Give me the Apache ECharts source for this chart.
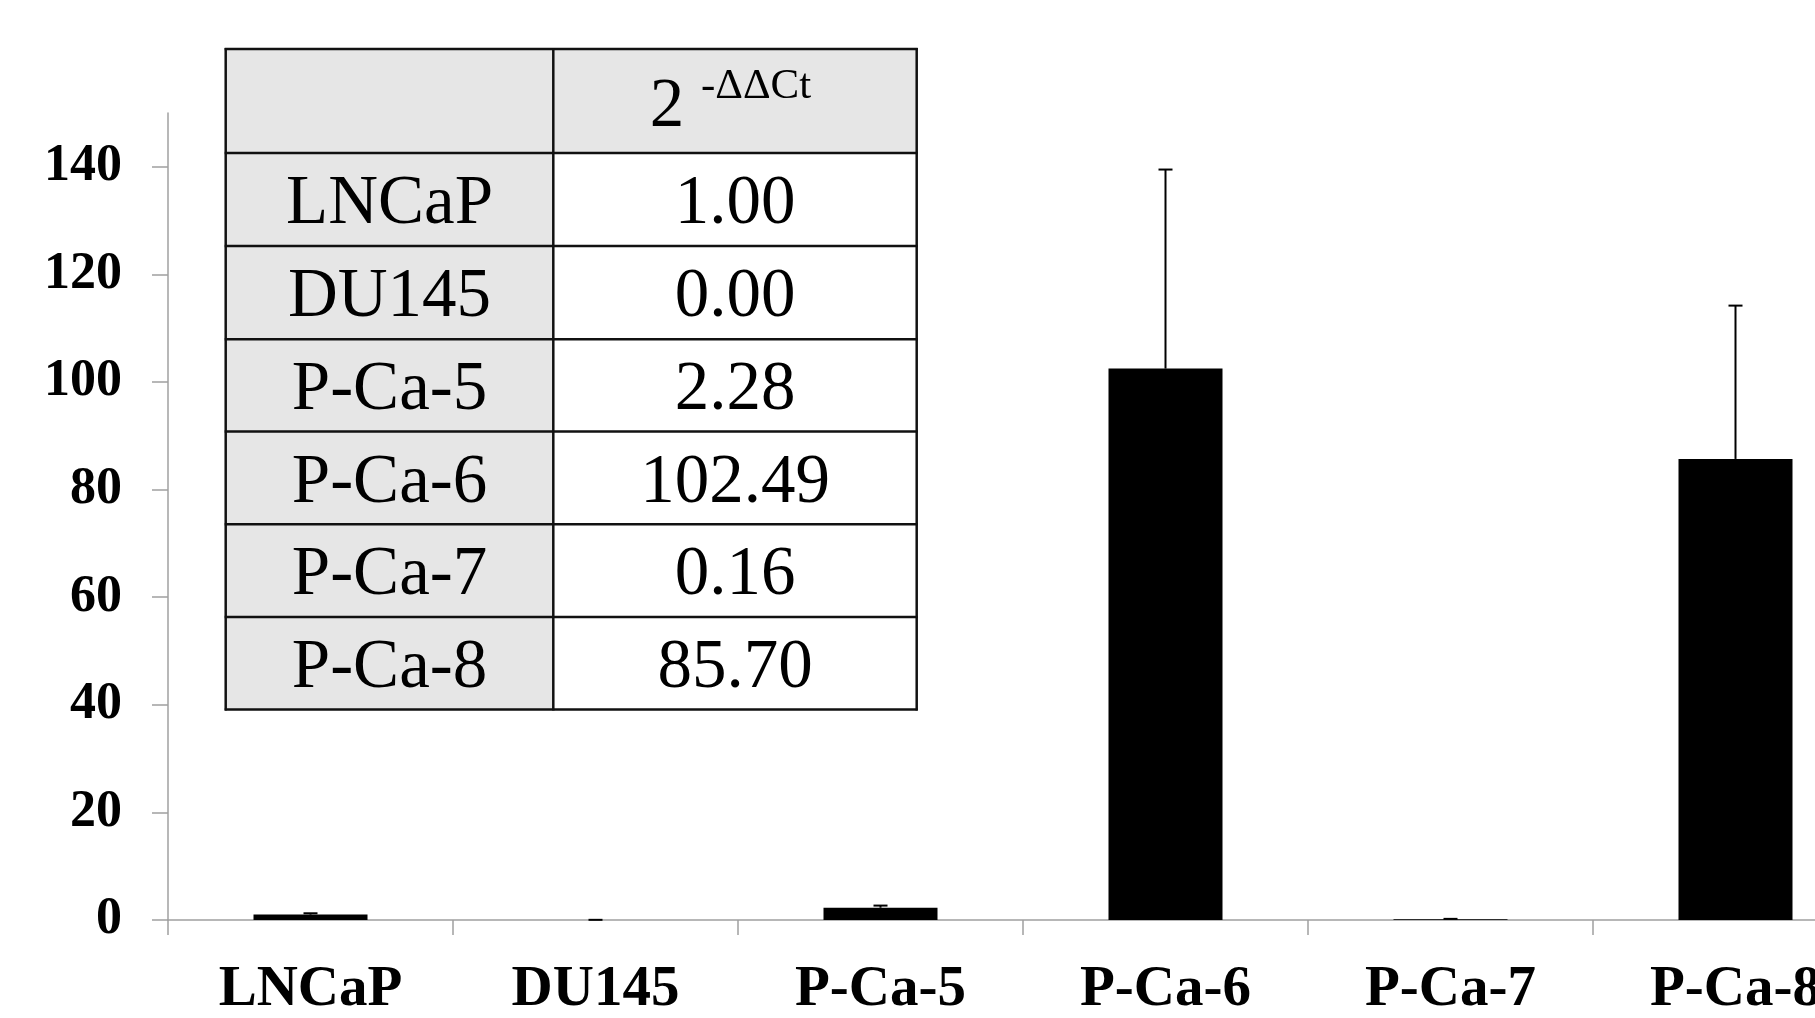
<!DOCTYPE html>
<html><head><meta charset="utf-8">
<script src="https://cdn.jsdelivr.net/npm/echarts@6/dist/echarts.min.js"></script>
<style>html,body{margin:0;padding:0;background:#fff}#c{width:1815px;height:1018px}</style>
</head><body><div id="c"></div>
<script>
const categories = ['LNCaP', 'DU145', 'P-Ca-5', 'P-Ca-6', 'P-Ca-7', 'P-Ca-8'];
const values = [1.00, 0.00, 2.28, 102.49, 0.16, 85.70];
const errors = [0.25, 0.03, 0.4, 37.0, 0.05, 28.5];
const yTickValues = [0, 20, 40, 60, 80, 100, 120, 140];
const headerBase = '2';
const headerSup = '-ΔΔCt';

const serif = '"Liberation Serif","Times New Roman",serif';
const chart = echarts.init(document.getElementById('c'), null, {renderer: 'canvas'});

// table layout (pixels)
const colX = [225.7, 553.3, 916.7];
const rowY = [49, 153, 246, 339.3, 431.6, 524.3, 617.1, 709.4];
const g = [];
for (let r = 0; r < rowY.length - 1; r++) {
  for (let c = 0; c < 2; c++) {
    const gray = (c === 0) || (r === 0);
    g.push({type: 'rect', shape: {x: colX[c], y: rowY[r], width: colX[c+1]-colX[c], height: rowY[r+1]-rowY[r]},
      style: {fill: gray ? '#e6e6e6' : '#ffffff'}, z: 10});
  }
}
rowY.forEach(y => g.push({type: 'line', shape: {x1: colX[0]-1, y1: y, x2: colX[2]+1, y2: y}, style: {stroke: '#111', lineWidth: 2.5}, z: 12}));
colX.forEach(x => g.push({type: 'line', shape: {x1: x, y1: rowY[0]-1, x2: x, y2: rowY[rowY.length-1]+1}, style: {stroke: '#111', lineWidth: 2.5}, z: 12}));
categories.forEach((name, i) => {
  const cy = (rowY[i+1] + rowY[i+2]) / 2 + 5.5;
  g.push({type: 'text', x: (colX[0]+colX[1])/2, y: cy, style: {text: name, font: '69px ' + serif, fill: '#000', align: 'center', verticalAlign: 'middle'}, z: 14});
  g.push({type: 'text', x: (colX[1]+colX[2])/2, y: cy, style: {text: values[i].toFixed(2), font: '69px ' + serif, fill: '#000', align: 'center', verticalAlign: 'middle'}, z: 14});
});
g.push({type: 'text', x: 667, y: 108, style: {text: headerBase, font: '69px ' + serif, fill: '#000', align: 'center', verticalAlign: 'middle'}, z: 14});
g.push({type: 'text', x: 701, y: 87, style: {text: headerSup, font: '43px ' + serif, fill: '#000', align: 'left', verticalAlign: 'middle'}, z: 14});

const axisGray = '#a0a0a0';
chart.setOption({
  animation: false,
  backgroundColor: '#ffffff',
  grid: {left: 168, width: 1710, top: 113, height: 807, containLabel: false, outerBoundsMode: 'none'},
  xAxis: {
    type: 'category', data: categories, boundaryGap: true,
    axisLine: {show: true, lineStyle: {color: axisGray, width: 1.5}},
    axisTick: {show: true, length: 15, alignWithLabel: false, lineStyle: {color: axisGray, width: 1.5}},
    axisLabel: {interval: 0, margin: 42, color: '#000', fontFamily: serif, fontWeight: 'bold', fontSize: 57, hideOverlap: false},
    splitLine: {show: false}
  },
  yAxis: {
    type: 'value', min: 0, max: 150, interval: 10,
    axisLine: {show: true, lineStyle: {color: axisGray, width: 1.5}},
    axisTick: {show: true, length: 16, customValues: yTickValues, lineStyle: {color: axisGray, width: 1.5}},
    axisLabel: {customValues: yTickValues, margin: 46, color: '#000', fontFamily: serif, fontWeight: 'bold', fontSize: 52},
    splitLine: {show: false}
  },
  series: [
    {type: 'bar', data: values, barWidth: 114, itemStyle: {color: '#000'}, z: 2},
    {type: 'custom', z: 3,
      data: values.map((v, i) => [i, v, v + errors[i]]),
      renderItem: function (params, api) {
        const b = api.coord([api.value(0), api.value(1)]);
        const t = api.coord([api.value(0), api.value(2)]);
        const cap = 7;
        return {type: 'group', children: [
          {type: 'line', shape: {x1: b[0], y1: b[1], x2: t[0], y2: t[1]}, style: {stroke: '#000', lineWidth: 2}},
          {type: 'line', shape: {x1: t[0]-cap, y1: t[1], x2: t[0]+cap, y2: t[1]}, style: {stroke: '#000', lineWidth: 2}}
        ]};
      }
    }
  ],
  graphic: g
});
</script></body></html>
